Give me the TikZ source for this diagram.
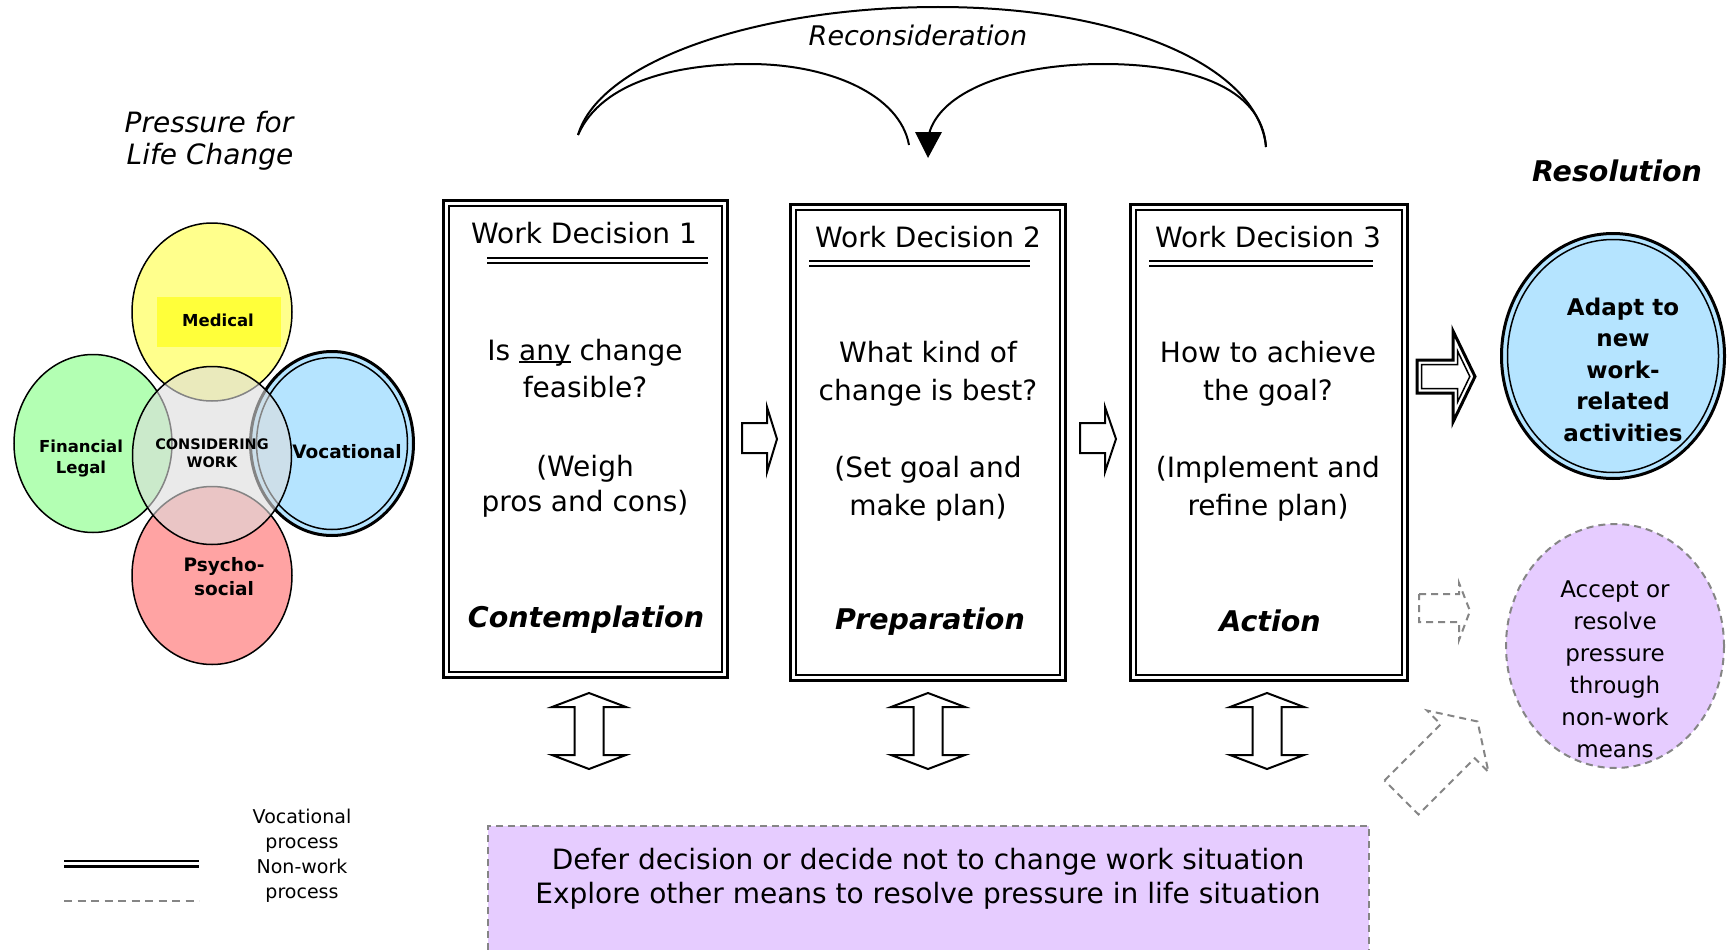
\documentclass[tikz,border=0pt]{standalone}
\usepackage{fontspec}
\setmainfont{DejaVu Sans}
% underline drawn close to the baseline, crossing descenders
\newcommand\anyline[1]{\setbox0=\hbox{#1}\rlap{\rule[-3pt]{\wd0}{1.6pt}}\box0\relax}
\definecolor{vyellow}{HTML}{FFFF8C}
\definecolor{vlabel}{HTML}{FFFF3A}
\definecolor{vgreen}{HTML}{B3FFB3}
\definecolor{vblue}{HTML}{B5E4FF}
\definecolor{vred}{HTML}{FFA3A3}
\definecolor{vgrey}{HTML}{DCDCDC}
\definecolor{lav}{HTML}{E6CCFF}
\definecolor{dashgrey}{HTML}{858585}
\begin{document}
\begin{tikzpicture}[x=1pt,y=-1pt,
  lbl/.style={inner sep=0pt, outer sep=0pt, anchor=base},
  big/.style={lbl, font=\fontsize{28}{34}\selectfont},
  bigit/.style={lbl, font=\itshape\fontsize{28}{34}\selectfont},
  bigbi/.style={lbl, font=\bfseries\itshape\fontsize{28.5}{34}\selectfont},
  vlab/.style={lbl, font=\bfseries\fontsize{#1}{20}\selectfont},
  dbox/.style={draw, line width=3, inner sep=0pt, outer sep=0pt},
  inrect/.style={line width=2},
  barrow/.style={draw, line width=2, fill=white, line join=miter},
  ghost/.style={draw=dashgrey, line width=2, dash pattern=on 7pt off 5pt},
  arcline/.style={line width=2},
  vcirc/.style={draw=black, line width=1.5}
]
\useasboundingbox (0,0) rectangle (1727,950);
\fill[white] (0,0) rectangle (1727,950);

% ---------- pressure for life change ----------
\node[bigit] (press1) at (209,132) {Pressure for};
\node[bigit] (press2) at (210,164) {Life Change};

% ---------- Venn of life domains ----------
\filldraw[vcirc, fill=vyellow] (212,312) ellipse [x radius=80, y radius=89];
\filldraw[vcirc, fill=vgreen] (93,443.5) ellipse [x radius=79, y radius=89];
\filldraw[vcirc, fill=vred] (212,575.5) ellipse [x radius=80, y radius=89];
\filldraw[draw=black, line width=3, fill=vblue] (332,443.5) ellipse [x radius=81.5, y radius=92];
\draw[line width=1.5] (332,443.5) ellipse [x radius=75.5, y radius=86];
\fill[vlabel] (157,297) rectangle (281,347);
\fill[vgrey, fill opacity=0.6] (212,455.5) ellipse [x radius=79.5, y radius=89];
\draw[line width=1.5] (212,455.5) ellipse [x radius=79.5, y radius=89];

\node[vlab=16.5] (medical) at (218,326) {Medical};
\node[vlab=16.5] (financial) at (81,452) {Financial};
\node[vlab=16.5] (legal) at (81,473) {Legal};
\node[vlab=14.5] (consid) at (212,449) {CONSIDERING};
\node[vlab=14.5] (work) at (212,467) {WORK};
\node[vlab=18.5] (vocational) at (347,458) {Vocational};
\node[vlab=18.5] (psycho) at (224,571) {Psycho-};
\node[vlab=18.5] (social) at (224,595) {social};

% ---------- reconsideration arcs ----------
\coordinate (rl) at (578,135);
\coordinate (rtop) at (938,7);
\coordinate (rr) at (1266,147);
\coordinate (lpeak) at (749,64);
\coordinate (lend) at (909,145);
\coordinate (rpeak) at (1103,64);
\coordinate (rend) at (929,134);
\draw[arcline] (rl) .. controls (600,60) and (760,7) .. (rtop)
                    .. controls (1120,7) and (1258,65) .. (rr);
\draw[arcline] (rl) .. controls (602,80) and (680,64) .. (lpeak)
                    .. controls (830,64) and (900,95) .. (lend);
\draw[arcline] (rr) .. controls (1262,85) and (1185,64) .. (rpeak)
                    .. controls (1010,64) and (940,92) .. (rend);
\fill (915,132) -- (942,132) -- (928,158) -- cycle;
\node[bigit, font=\itshape\fontsize{27}{32}\selectfont] (recon) at (918,46) {Reconsideration};

% ---------- decision boxes ----------
\node[dbox, minimum width=284, minimum height=477] (b1) at (585.5,439) {};
\node[dbox, minimum width=275, minimum height=476] (b2) at (928,442.5) {};
\node[dbox, minimum width=277, minimum height=476] (b3) at (1268.5,442.5) {};
\foreach \b in {b1,b2,b3}
  \draw[inrect] ([shift={(5.5,5.5)}]\b.north west) rectangle ([shift={(-5.5,-5.5)}]\b.south east);
\foreach \xa/\xb/\yy in {487/708/258, 809/1030/261, 1149/1373/261} {
  \draw[line width=2.7] (\xa,\yy) -- (\xb,\yy);
  \draw[line width=2] (\xa,\yy+4.5) -- (\xb,\yy+4.5);
}

\node[big] (t1) at (584,243) {Work Decision 1};
\node[big] (q1a) at (585,360) {Is \anyline{any} change};
\node[big] (q1b) at (585,397) {feasible?};
\node[big] (q1c) at (585,476) {(Weigh};
\node[big] (q1d) at (585,511) {pros and cons)};
\node[bigbi] (s1) at (586,627) {Contemplation};

\node[big] (t2) at (928,247) {Work Decision 2};
\node[big] (q2a) at (928,362) {What kind of};
\node[big] (q2b) at (928,400) {change is best?};
\node[big] (q2c) at (928,477) {(Set goal and};
\node[big] (q2d) at (928,515) {make plan)};
\node[bigbi] (s2) at (930,629) {Preparation};

\node[big] (t3) at (1268,247) {Work Decision 3};
\node[big] (q3a) at (1268,362) {How to achieve};
\node[big] (q3b) at (1268,400) {the goal?};
\node[big] (q3c) at (1268,477) {(Implement and};
\node[big] (q3d) at (1268,515) {refine plan)};
\node[bigbi] (s3) at (1270,631) {Action};

% block arrows between the boxes
\draw[barrow] (742,423) -- (767,423) -- (767,407) -- (777,439) -- (767,472) -- (767,453) -- (742,453) -- cycle;
\draw[barrow] (1080,423) -- (1105,423) -- (1105,407) -- (1116,439) -- (1105,472) -- (1105,453) -- (1080,453) -- cycle;

% two-way arrows below the boxes
\foreach \c in {589,928,1267}
  \draw[barrow] (\c,693) -- (\c+37,707) -- (\c+14.5,707) -- (\c+14.5,755) -- (\c+37,755) -- (\c,769)
     -- (\c-37,755) -- (\c-14.5,755) -- (\c-14.5,707) -- (\c-37,707) -- cycle;

% ---------- resolution ----------
\node[bigbi] (resol) at (1617,181) {Resolution};

% double-lined block arrow: thick outline with a thin inset outline
\draw[line width=3, line join=miter]
  (1417,360) -- (1453,360) -- (1453,331) -- (1475,376.5) -- (1453,422) -- (1453,393) -- (1417,393) -- cycle;
\draw[line width=1.5, line join=miter]
  (1421.5,364.5) -- (1457.5,364.5) -- (1457.5,350.9) -- (1469.8,376.5) -- (1457.5,402.1) -- (1457.5,388.5) -- (1421.5,388.5) -- cycle;

\filldraw[draw=black, line width=3, fill=vblue] (1613,356) ellipse [x radius=111.5, y radius=122.5];
\draw[line width=1.5] (1613,356) ellipse [x radius=105.5, y radius=116.5];
\foreach \t [count=\i] in {Adapt to,new,work-,related,activities}
  \node[vlab=23] (adapt\i) at (1623,{315+31.5*(\i-1)}) {\t};

\draw[ghost] (1419,594) -- (1459,594) -- (1459,583) -- (1470,611) -- (1459,640) -- (1459,622) -- (1419,622) -- cycle;
\begin{scope}[shift={(1401.5,797.5)}, rotate=45]
  \draw[ghost] (0,-24) -- (79.5,-24) -- (79.5,-43.5) -- (107.5,0) -- (79.5,43.5) -- (79.5,24) -- (0,24) -- cycle;
\end{scope}

\filldraw[ghost, fill=lav] (1615,646) ellipse [x radius=109, y radius=122];
\foreach \t [count=\i] in {Accept or,resolve,pressure,through,non-work,means}
  \node[lbl, font=\fontsize{23}{28}\selectfont] (accept\i) at (1615,{597+32*(\i-1)}) {\t};

% ---------- non-work alternative ----------
\node[fill=lav, minimum width=881, minimum height=124, anchor=north west, inner sep=0pt, outer sep=0pt] (defer) at (488,826) {};
\draw[ghost] (defer.south west) -- (defer.north west) -- (defer.north east) -- (defer.south east);
\node[big] (defer1) at (928,869) {Defer decision or decide not to change work situation};
\node[big] (defer2) at (928,903) {Explore other means to resolve pressure in life situation};

% ---------- legend ----------
\coordinate (la) at (64,861);
\coordinate (lb) at (199,861);
\coordinate (lc) at (64,866.5);
\coordinate (ld) at (199,866.5);
\coordinate (le) at (64,901);
\coordinate (lf) at (199,901);
\draw[line width=2.3] (la) -- (lb);
\draw[line width=2.6] (lc) -- (ld);
\draw[ghost, dash pattern=on 8pt off 5.5pt] (le) -- (lf);
\foreach \t [count=\i] in {Vocational,process,Non-work,process}
  \node[lbl, font=\fontsize{19}{24}\selectfont] (leg\i) at (302,{823+25*(\i-1)}) {\t};
\end{tikzpicture}
\end{document}
